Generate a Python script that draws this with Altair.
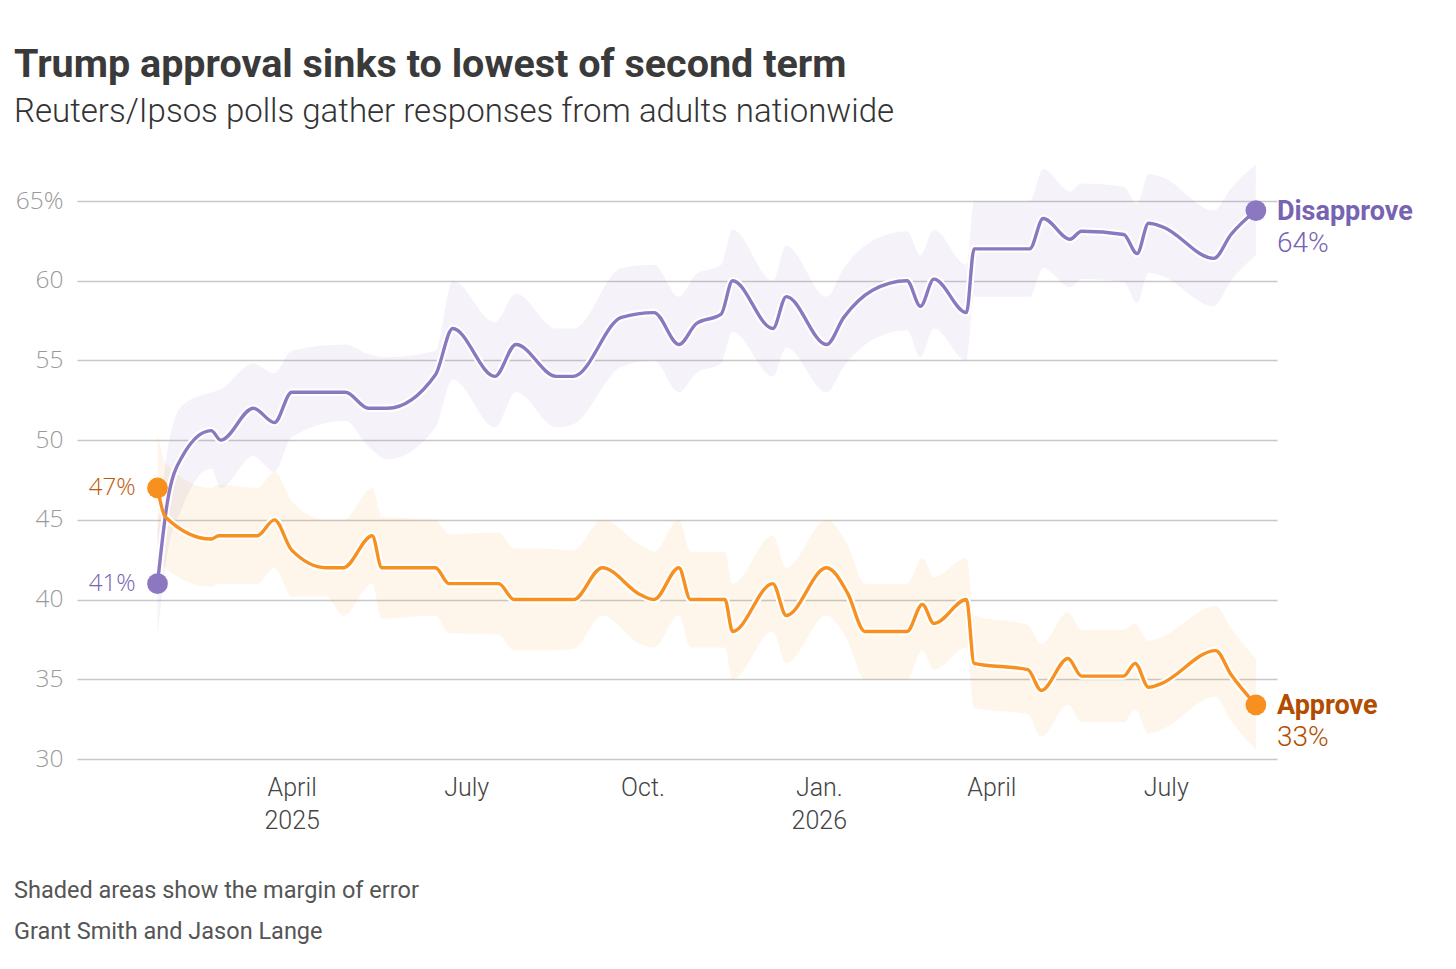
import altair as alt
import pandas as pd

# ---------------- data ----------------
disapprove_dates = [
    "2025-01-21", "2025-01-26", "2025-02-03", "2025-02-18", "2025-02-23", "2025-03-12",
    "2025-03-23", "2025-04-01", "2025-04-29", "2025-05-11", "2025-05-21", "2025-06-15",
    "2025-06-24", "2025-07-16", "2025-07-27", "2025-08-17", "2025-08-26", "2025-09-20",
    "2025-10-07", "2025-10-20", "2025-10-29", "2025-11-11", "2025-11-17", "2025-12-08",
    "2025-12-15", "2026-01-05", "2026-01-14", "2026-01-29", "2026-02-16", "2026-02-23",
    "2026-03-02", "2026-03-19", "2026-03-23", "2026-04-21", "2026-04-28", "2026-05-12",
    "2026-05-18", "2026-06-09", "2026-06-16", "2026-06-22", "2026-06-29", "2026-07-26",
    "2026-08-04", "2026-08-17",
]
disapprove_values = [
    41.0, 46.0, 49.0, 50.6, 50.0, 52.0,
    51.1, 53.0, 53.0, 52.0, 52.0, 54.1,
    57.0, 54.0, 56.0, 54.0, 54.0, 57.7,
    58.0, 56.0, 57.3, 57.9, 60.0, 57.0,
    59.0, 56.0, 57.7, 59.4, 60.0, 58.4,
    60.1, 58.0, 62.0, 62.0, 63.9, 62.6,
    63.1, 62.9, 61.7, 63.6, 63.4, 61.4,
    62.9, 64.4,
]
disapprove_low = [
    37.6, 42.8, 45.8, 48.2, 47.0, 49.0,
    48.0, 50.2, 51.2, 49.6, 48.8, 50.8,
    53.8, 50.8, 53.0, 50.8, 51.0, 54.6,
    55.0, 53.0, 54.2, 54.8, 56.8, 54.0,
    55.8, 53.0, 54.6, 56.3, 56.9, 55.2,
    57.0, 55.0, 59.0, 59.0, 60.8, 59.6,
    60.1, 59.9, 58.6, 60.5, 60.3, 58.4,
    60.0, 61.6,
]
disapprove_high = [
    44.4, 49.2, 52.2, 53.0, 53.2, 54.8,
    54.2, 55.6, 56.0, 55.4, 55.2, 55.6,
    60.0, 57.4, 59.2, 57.0, 57.0, 60.8,
    61.0, 59.0, 60.4, 61.0, 63.2, 60.0,
    62.2, 59.0, 60.8, 62.5, 63.1, 61.6,
    63.2, 61.0, 65.0, 65.0, 67.0, 65.6,
    66.1, 65.9, 64.8, 66.7, 66.5, 64.4,
    65.8, 67.3,
]

approve_dates = [
    "2025-01-21", "2025-01-25", "2025-02-18", "2025-02-22", "2025-03-14", "2025-03-23",
    "2025-04-01", "2025-04-19", "2025-04-28", "2025-05-13", "2025-05-18", "2025-06-15",
    "2025-06-22", "2025-07-18", "2025-07-26", "2025-08-08", "2025-08-26", "2025-09-10",
    "2025-09-30", "2025-10-07", "2025-10-20", "2025-10-26", "2025-11-13", "2025-11-17",
    "2025-12-08", "2025-12-15", "2026-01-05", "2026-01-16", "2026-01-25", "2026-02-16",
    "2026-02-24", "2026-03-02", "2026-03-19", "2026-03-23", "2026-04-20", "2026-04-27",
    "2026-05-11", "2026-05-18", "2026-06-09", "2026-06-15", "2026-06-22", "2026-06-28",
    "2026-07-27", "2026-08-04", "2026-08-17",
]
approve_values = [
    47.0, 45.2, 43.8, 44.0, 44.0, 45.0,
    43.1, 42.0, 42.0, 44.0, 42.0, 42.0,
    41.0, 41.0, 40.0, 40.0, 40.0, 42.0,
    40.3, 40.0, 42.0, 40.0, 40.0, 38.0,
    41.0, 39.0, 42.0, 40.4, 38.0, 38.0,
    39.7, 38.5, 40.0, 36.0, 35.6, 34.3,
    36.3, 35.2, 35.2, 36.0, 34.5, 34.7,
    36.8, 35.3, 33.4,
]
approve_low = [
    43.5, 42.0, 40.8, 41.0, 41.0, 42.0,
    40.2, 40.2, 39.0, 41.0, 38.8, 39.0,
    37.9, 37.8, 36.8, 36.8, 36.9, 39.0,
    37.2, 37.0, 39.0, 37.0, 37.0, 35.0,
    38.0, 36.0, 39.0, 37.4, 35.0, 35.0,
    36.8, 35.6, 37.0, 33.2, 32.8, 31.4,
    33.4, 32.3, 32.3, 33.1, 31.6, 31.8,
    33.9, 32.4, 30.6,
]
approve_high = [
    50.5, 48.6, 47.0, 47.2, 47.0, 48.0,
    46.2, 45.0, 45.0, 47.0, 45.2, 45.0,
    44.1, 44.2, 43.2, 43.2, 43.1, 45.0,
    43.4, 43.0, 45.0, 43.0, 43.0, 41.0,
    44.0, 42.0, 45.0, 43.4, 41.0, 41.0,
    42.6, 41.4, 42.6, 39.0, 38.4, 37.2,
    39.2, 38.1, 38.1, 38.5, 37.4, 37.6,
    39.6, 38.2, 36.3,
]

series_names = ["Disapprove", "Approve"]
y_ticks = [30, 35, 40, 45, 50, 55, 60, 65]
x_ticks = [(2025, 4, 1), (2025, 7, 1), (2025, 10, 1), (2026, 1, 1), (2026, 4, 1), (2026, 7, 1)]
x_domain = [(2024, 12, 10), (2026, 8, 28)]
title_text = "Trump approval sinks to lowest of second term"
subtitle_text = "Reuters/Ipsos polls gather responses from adults nationwide"
footnotes = ["Shaded areas show the margin of error", "Grant Smith and Jason Lange"]

# ---------------- styles ----------------
line_colors = ["#8b78c1", "#f7901f"]
label_colors = ["#7763b2", "#b24c00"]
start_label_colors = ["#7763b2", "#c0580a"]

# ---------------- build tables ----------------
df = pd.concat([
    pd.DataFrame({"series": "Disapprove", "date": disapprove_dates, "value": disapprove_values,
                  "low": disapprove_low, "high": disapprove_high}),
    pd.DataFrame({"series": "Approve", "date": approve_dates, "value": approve_values,
                  "low": approve_low, "high": approve_high}),
], ignore_index=True)

ends = df.groupby("series", sort=False).tail(1).copy()
starts = df.groupby("series", sort=False).head(1).copy()


def dt(t):
    return alt.DateTime(year=t[0], month=t[1], date=t[2], utc=True)


label_expr = (
    "utcmonth(datum.value) == 0 ? ['Jan.', utcFormat(datum.value, '%Y')] : "
    "utcmonth(datum.value) == 3 ? (utcyear(datum.value) == 2025 ? ['April', '2025'] : 'April') : "
    "utcmonth(datum.value) == 6 ? 'July' : 'Oct.'"
)

x_enc = alt.X(
    "date:T",
    scale=alt.Scale(type="utc", domain=[dt(x_domain[0]), dt(x_domain[1])]),
    axis=alt.Axis(
        values=[dt(t) for t in x_ticks], labelExpr=label_expr, title=None,
        grid=False, domain=False, ticks=False, labelPadding=16,
        labelFont="Roboto", labelFontWeight=300, labelFontSize=25, labelColor="#444444",
        labelLineHeight=33, labelBaseline="top",
    ),
)

y_scale = alt.Scale(domain=[30, 65], nice=False, zero=False)
y_axis = alt.Axis(
    values=y_ticks, labelExpr="datum.value == 65 ? '65%' : datum.label", title=None,
    grid=True, gridColor="#c8c8c8", gridWidth=1.5, domain=False, ticks=False,
    labelPadding=14, labelFont="Open Sans", labelFontWeight=300, labelFontSize=24.5,
    labelColor="#9a9a9a",
)

color_line = alt.Color("series:N", scale=alt.Scale(domain=series_names, range=line_colors), legend=None)
color_label = alt.Color("series:N", scale=alt.Scale(domain=series_names, range=label_colors), legend=None)
color_start = alt.Color("series:N", scale=alt.Scale(domain=series_names, range=start_label_colors), legend=None)

base = alt.Chart(df)

bands = base.mark_area(interpolate="monotone", opacity=0.09).encode(
    x=x_enc,
    y=alt.Y("low:Q", scale=y_scale, axis=y_axis),
    y2="high:Q",
    color=color_line,
)

halo = base.mark_line(interpolate="monotone", strokeWidth=7.5, color="white", strokeCap="round").encode(
    x=x_enc, y=alt.Y("value:Q", scale=y_scale), detail="series:N",
)

lines = base.mark_line(interpolate="monotone", strokeWidth=3.4, strokeCap="round").encode(
    x=x_enc, y=alt.Y("value:Q", scale=y_scale), color=color_line,
)

dots_data = pd.concat([starts, ends], ignore_index=True)
dots = alt.Chart(dots_data).mark_circle(size=430, opacity=1).encode(
    x=x_enc, y=alt.Y("value:Q", scale=y_scale), color=color_line,
)

end_names = alt.Chart(ends).mark_text(
    align="left", baseline="middle", dx=21, dy=1, font="Roboto", fontWeight="bold", fontSize=27,
).encode(x=x_enc, y=alt.Y("value:Q", scale=y_scale), text="series:N", color=color_label)

end_values = alt.Chart(ends).transform_calculate(
    pct="format(datum.value, '.0f') + '%'"
).mark_text(
    align="left", baseline="middle", dx=21, dy=33, font="Roboto", fontWeight=300, fontSize=28,
).encode(x=x_enc, y=alt.Y("value:Q", scale=y_scale), text="pct:N", color=color_label)

start_values = alt.Chart(starts).transform_calculate(
    pct="format(datum.value, '.0f') + '%'"
).mark_text(
    align="right", baseline="middle", dx=-22, font="Open Sans", fontWeight=300, fontSize=24,
).encode(x=x_enc, y=alt.Y("value:Q", scale=y_scale), text="pct:N", color=color_start)

foot1 = alt.Chart(pd.DataFrame({"t": [footnotes[0]]})).mark_text(
    align="left", baseline="middle", font="Roboto", fontSize=23.5, color="#555555",
).encode(text="t:N", x=alt.value(-63), y=alt.value(690))

foot2 = alt.Chart(pd.DataFrame({"t": [footnotes[1]]})).mark_text(
    align="left", baseline="middle", font="Roboto", fontSize=23.5, color="#555555",
).encode(text="t:N", x=alt.value(-63), y=alt.value(731))

chart = alt.layer(
    bands, halo, lines, dots, end_names, end_values, start_values, foot1, foot2
).resolve_scale(color="independent").properties(
    width=1200,
    height=558,
    padding={"left": 69, "top": 193, "right": 170, "bottom": 195},
    autosize=alt.AutoSizeParams(type="none"),
    title=alt.TitleParams(
        text=title_text, subtitle=subtitle_text, anchor="start", frame="group", dx=-63,
        offset=34, font="Roboto", fontSize=39.5, fontWeight="bold", color="#3a3a3a",
        subtitleFont="Roboto", subtitleFontSize=33, subtitleFontWeight=300, subtitleColor="#333333",
        subtitlePadding=11,
    ),
).configure(background="white").configure_view(strokeWidth=0, strokeOpacity=0)

chart.save("out.html", embed_options={"renderer": "svg", "actions": False})
